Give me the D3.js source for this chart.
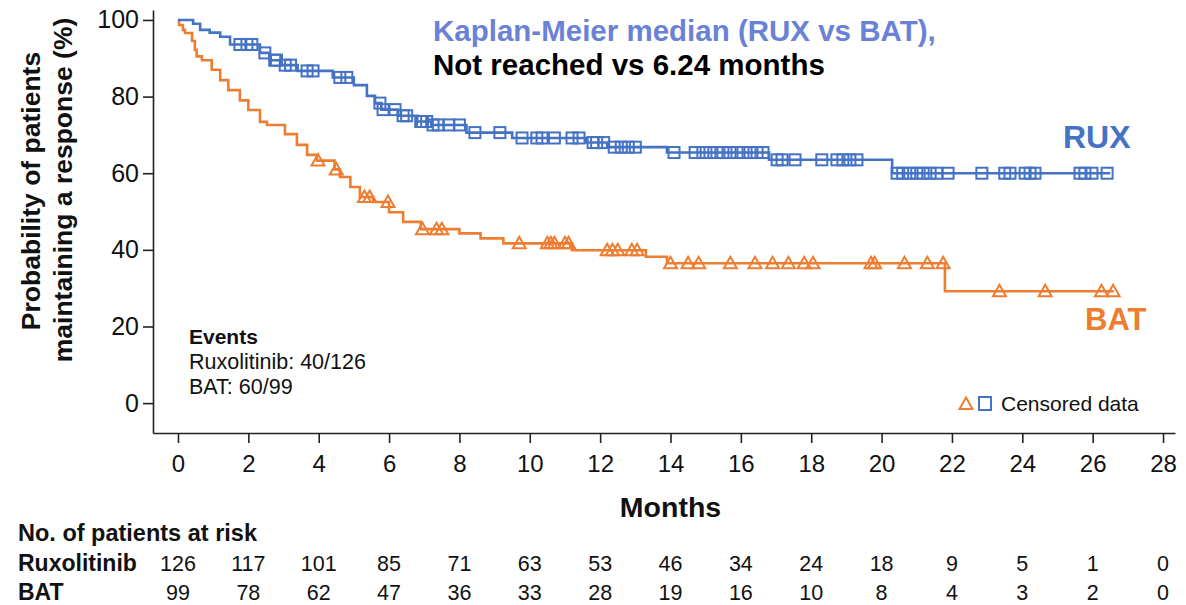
<!DOCTYPE html>
<html>
<head>
<meta charset="utf-8">
<script src="https://cdn.jsdelivr.net/npm/d3@7"></script>
<style>
  html, body { margin: 0; padding: 0; background: #fff; }
  svg { display: block; font-family: "Liberation Sans", Arial, sans-serif; }
</style>
</head>
<body>
<svg id="chart" width="1186" height="605"></svg>
<script>
// ---------------- DATA ----------------
const monthTicks = [0, 2, 4, 6, 8, 10, 12, 14, 16, 18, 20, 22, 24, 26, 28];
const pctTicks = [0, 20, 40, 60, 80, 100];

const ruxAtRisk = [126, 117, 101, 85, 71, 63, 53, 46, 34, 24, 18, 9, 5, 1, 0];
const batAtRisk = [99, 78, 62, 47, 36, 33, 28, 19, 16, 10, 8, 4, 3, 2, 0];

// Kaplan-Meier step points (time in months, % maintaining response after the step)
const ruxTimes = [0, 0.43, 0.63, 0.9, 1.2, 1.48, 2.33, 2.6, 2.95, 3.4, 4.4, 5.0, 5.37, 5.6, 5.78, 6.25, 6.8, 7.2, 8.2, 9.5, 11.6, 12.2, 13.9, 16.8, 20.3];
const ruxSurv  = [100, 99.0, 97.4, 96.7, 95.6, 93.6, 91.4, 89.5, 88.2, 86.7, 85.0, 83.0, 80.2, 78.3, 76.6, 75.0, 73.5, 72.6, 70.6, 69.2, 68.0, 66.8, 65.4, 63.5, 60.0];
const ruxEnd = 26.5;
const ruxCensor = [1.76, 1.96, 2.1, 2.47, 2.75, 2.8, 3.05, 3.2, 3.67, 3.84, 4.6, 4.8, 5.74, 5.83, 6.17, 6.4, 6.5, 6.9, 6.95, 7.07, 7.25, 7.4, 7.7, 8.0, 8.44, 9.15, 9.78, 10.2, 10.35, 10.7, 11.2, 11.4, 11.8, 11.9, 12.1, 12.4, 12.6, 12.8, 13.0, 14.1, 14.7, 14.92, 15.12, 15.32, 15.49, 15.69, 15.89, 16.06, 16.26, 16.46, 16.63, 17.03, 17.17, 17.54, 18.3, 18.73, 18.9, 19.1, 19.3, 20.44, 20.6, 20.8, 21.0, 21.18, 21.38, 21.57, 21.89, 22.85, 23.5, 23.65, 24.08, 24.22, 24.36, 25.64, 25.78, 25.98, 26.41];

const batTimes = [0, 0.03, 0.14, 0.2, 0.4, 0.48, 0.53, 0.68, 0.96, 1.2, 1.43, 1.76, 2.0, 2.33, 2.53, 3.04, 3.38, 3.67, 3.95, 4.45, 4.6, 4.9, 5.17, 5.55, 6.0, 6.4, 6.9, 8.0, 8.6, 9.25, 11.2, 13.3, 13.9, 21.8];
const batSurv  = [100, 98.7, 97.4, 96.6, 94.5, 92.2, 90.5, 89.5, 87.0, 84.3, 81.7, 79.0, 76.5, 73.4, 72.6, 70.2, 67.4, 64.8, 63.3, 61.0, 59.0, 56.4, 53.8, 52.5, 49.8, 47.3, 45.4, 44.3, 43.0, 41.7, 39.9, 38.2, 36.5, 29.2];
const batEnd = 26.6;
const batCensor = [3.98, 4.5, 5.3, 5.45, 5.97, 6.95, 7.35, 7.5, 9.7, 10.5, 10.6, 10.7, 11.0, 11.1, 12.2, 12.35, 12.5, 12.9, 13.05, 14.0, 14.5, 14.8, 15.7, 16.4, 16.9, 17.35, 17.8, 18.05, 19.7, 19.8, 20.65, 21.3, 21.75, 23.35, 24.65, 26.25, 26.58];

// ---------------- STYLE ----------------
const RUX = "#4472C4", BAT = "#ED7D31", TITLE = "#6A82D6";

const svg = d3.select("#chart");
const x = d3.scaleLinear().domain([-0.71, 28.34]).range([153, 1175]);
const y = d3.scaleLinear().domain([-7.8, 102.6]).range([433, 10]);

// Axes
const xAxis = d3.axisBottom(x).tickValues(monthTicks).tickSize(10).tickSizeOuter(0).tickPadding(12);
const yAxis = d3.axisLeft(y).tickValues(pctTicks).tickSize(10).tickSizeOuter(0).tickPadding(4);

const gx = svg.append("g").attr("transform", `translate(0,${y(-7.8)})`).call(xAxis);
const gy = svg.append("g").attr("transform", `translate(${x(-0.71)},0)`).call(yAxis);
[gx, gy].forEach(g => {
  g.select(".domain").attr("stroke", "#222").attr("stroke-width", 1.6);
  g.selectAll(".tick line").attr("stroke", "#222").attr("stroke-width", 1.6);
  g.selectAll(".tick text").attr("fill", "#111").style("font-size", "24px")
    .style("font-family", '"Liberation Sans", Arial, sans-serif');
});
gy.selectAll(".tick text").style("font-size", "25px");

// KM lines
function stepPoints(times, surv, end) {
  const pts = times.map((t, i) => [t, surv[i]]);
  pts.push([end, surv[surv.length - 1]]);
  return pts;
}
function survAt(times, surv, t) {
  const i = d3.bisectRight(times, t) - 1;
  return surv[Math.max(0, i)];
}
const line = d3.line().x(d => x(d[0])).y(d => y(d[1])).curve(d3.curveStepAfter);

svg.append("path").datum(stepPoints(batTimes, batSurv, batEnd))
  .attr("d", line).attr("fill", "none").attr("stroke", BAT).attr("stroke-width", 2.6);
svg.append("path").datum(stepPoints(ruxTimes, ruxSurv, ruxEnd))
  .attr("d", line).attr("fill", "none").attr("stroke", RUX).attr("stroke-width", 2.6);

// censor marks
const triPath = "M0,-6.5 L6.5,5 L-6.5,5 Z";
svg.append("g").selectAll("path").data(batCensor).join("path")
  .attr("d", triPath)
  .attr("transform", t => `translate(${x(t)},${y(survAt(batTimes, batSurv, t))})`)
  .attr("fill", "none").attr("stroke", BAT).attr("stroke-width", 2);

svg.append("g").selectAll("rect").data(ruxCensor).join("rect")
  .attr("x", t => x(t) - 5.5).attr("y", t => y(survAt(ruxTimes, ruxSurv, t)) - 5.5)
  .attr("width", 11).attr("height", 11)
  .attr("fill", "none").attr("stroke", RUX).attr("stroke-width", 2);

// Titles & labels
svg.append("text").attr("x", 433).attr("y", 41).attr("fill", TITLE)
  .style("font-size", "29.5px").style("font-weight", "bold")
  .text("Kaplan-Meier median (RUX vs BAT),");
svg.append("text").attr("x", 433).attr("y", 75).attr("fill", "#000")
  .style("font-size", "29.5px").style("font-weight", "bold")
  .text("Not reached vs 6.24 months");

svg.append("text").attr("x", 1063).attr("y", 148).attr("fill", RUX)
  .style("font-size", "32px").style("font-weight", "bold").text("RUX");
svg.append("text").attr("x", 1085).attr("y", 330).attr("fill", BAT)
  .style("font-size", "31px").style("font-weight", "bold").text("BAT");

// Y label
svg.append("text").attr("transform", "translate(40,191) rotate(-90)").attr("text-anchor", "middle")
  .style("font-size", "26.5px").style("font-weight", "bold").attr("fill", "#111")
  .text("Probability of patients");
svg.append("text").attr("transform", "translate(72,190) rotate(-90)").attr("text-anchor", "middle")
  .style("font-size", "26.5px").style("font-weight", "bold").attr("fill", "#111")
  .text("maintaining a response (%)");

// X label
svg.append("text").attr("x", x(14)).attr("y", 517).attr("text-anchor", "middle")
  .style("font-size", "28.5px").style("font-weight", "bold").attr("fill", "#111").text("Months");

// Events box
svg.append("text").attr("x", 189).attr("y", 344).style("font-size", "21px").style("font-weight", "bold")
  .attr("fill", "#111").text("Events");
svg.append("text").attr("x", 189).attr("y", 369).style("font-size", "21.5px")
  .attr("fill", "#111").text("Ruxolitinib: 40/126");
svg.append("text").attr("x", 189).attr("y", 394).style("font-size", "21.5px")
  .attr("fill", "#111").text("BAT: 60/99");

// Legend
svg.append("path").attr("d", triPath).attr("transform", "translate(966,404)")
  .attr("fill", "none").attr("stroke", BAT).attr("stroke-width", 2);
svg.append("rect").attr("x", 979).attr("y", 397).attr("width", 12).attr("height", 13)
  .attr("fill", "none").attr("stroke", RUX).attr("stroke-width", 2);
svg.append("text").attr("x", 1001).attr("y", 411).style("font-size", "21px")
  .attr("fill", "#111").text("Censored data");

// Risk table
svg.append("text").attr("x", 18).attr("y", 541).style("font-size", "23.5px").style("font-weight", "bold")
  .attr("fill", "#111").text("No. of patients at risk");
svg.append("text").attr("x", 18).attr("y", 571).style("font-size", "23px").style("font-weight", "bold")
  .attr("fill", "#111").text("Ruxolitinib");
svg.append("text").attr("x", 18).attr("y", 600).style("font-size", "23px").style("font-weight", "bold")
  .attr("fill", "#111").text("BAT");

svg.append("g").selectAll("text").data(ruxAtRisk).join("text")
  .attr("x", (d, i) => x(monthTicks[i])).attr("y", 571).attr("text-anchor", "middle")
  .style("font-size", "21.5px").attr("fill", "#111").text(d => d);
svg.append("g").selectAll("text").data(batAtRisk).join("text")
  .attr("x", (d, i) => x(monthTicks[i])).attr("y", 600).attr("text-anchor", "middle")
  .style("font-size", "21.5px").attr("fill", "#111").text(d => d);
</script>
</body>
</html>
